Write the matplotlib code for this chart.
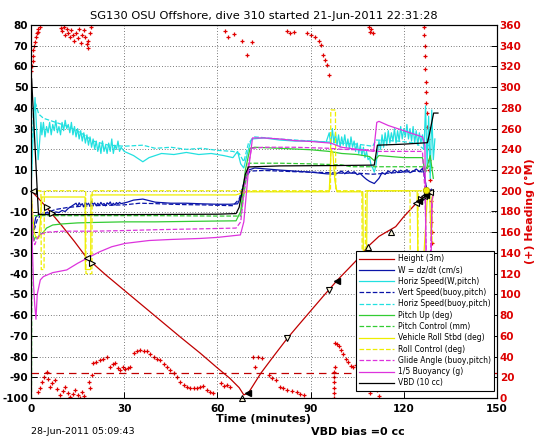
import matplotlib.pyplot as plt

plt.rcParams['axes.unicode_minus'] = False

# ---------- series (time in minutes) ----------
height_t = [0, 2, 5, 10, 14, 18, 24, 30, 36, 42, 48, 54.5, 60, 64, 67, 68.5, 70, 74, 78, 82.5,
            86, 90, 94, 98.7, 104.5, 108.4, 112, 117.4, 120, 123.7, 126, 128.5]
height_v = [0, -3, -8, -17, -24.5, -32.5, -40.5, -48, -55.5, -63, -70.5, -78.4, -85.5, -90.5, -95,
            -98.5, -97.5, -88, -80, -71.2, -65, -58, -51, -43, -34, -27, -22, -17.3, -12.5, -6.5, -3, 0]

w_t = [0, 0.3, 0.6, 1, 1.5, 2, 3, 4, 5, 6, 7, 8, 9, 10, 11, 12, 13, 14,
       14.5, 15, 15.5, 16, 16.5, 17, 17.5, 18, 18.5, 19, 19.5, 20, 20.5, 21, 21.5, 22, 22.5,
       23, 23.5, 24, 24.5, 25, 25.5, 26, 26.5, 27, 27.5, 28, 28.5, 29,
       31, 33, 36, 40, 45, 50, 55, 60, 64, 66.5, 67.5, 69, 70, 72, 76, 80, 85, 90, 95, 98,
       100, 101, 102, 103, 104, 105, 106, 107, 108, 109, 110.5, 112, 113, 114, 115, 116,
       117, 118, 119, 120, 121, 122, 123, 124, 125, 126, 126.8, 127.4, 128.2, 129.5]
w_v = [0, -12, -20, -17, -13, -12, -11, -11.5, -10.5, -11, -10.8, -10.2, -10.5, -9.5, -10, -8.5, -7.5, -6.5,
       -6, -7.5, -5.8, -7, -6.2, -7.8, -5.5, -6.8, -6, -7.5, -5, -6.6, -5.9, -7.2, -6, -7, -5.6,
       -6.8, -6.1, -7.3, -5.8, -6.5, -5.4, -7, -6, -6.9, -5.7, -6.4, -5.6, -6.2,
       -5.5, -4.5, -4, -5.5, -6, -6, -6.3, -6.5, -6.5, -6.3, -3, 5, 10, 11, 10.5, 10, 9.5, 9, 8.2, 8,
       9.5, 8.2, 9.4, 8.4, 9.2, 7.8, 8.3, 6.8, 5.5, 4.5, 3.5, 6, 8.8, 7.9, 9.6, 8.5,
       10, 8.8, 9.9, 9, 10.2, 8.7, 9.4, 10.5, 9.2, 10.8, 6, 0, -1.5, 0]

vs_t = [0, 0.5, 1, 2, 3, 5, 8, 12, 16, 20, 25, 30, 35, 40, 45, 50, 55, 60, 65, 67, 69, 70.5,
        75, 80, 85, 90, 95, 100, 105, 110, 115, 120, 124, 126.5, 127.5, 129]
vs_v = [0, -15, -19, -14, -12, -10.5, -9, -8, -7.5, -7.2, -7, -6.8, -6, -6.2, -6.5, -6.7, -6.8, -7,
        -7.2, -4, 6, 9.5, 9.8, 9.5, 9.2, 9, 8.8, 8.5, 8.5, 8, 8.5, 9, 9.5, 9, -2, 1]

hs_t = [0, 0.5, 1, 1.3, 1.8, 2.3, 2.7, 3.2,
        3.5, 4, 4.5, 5, 5.5, 6, 6.5, 7, 7.5, 8, 8.5, 9, 9.5, 10, 10.5, 11, 11.5, 12, 12.5, 13,
        13.5, 14, 14.5, 15, 15.5, 16, 16.5, 17, 17.5, 18, 18.5, 19, 19.5, 20, 20.5, 21, 21.5,
        22, 22.5, 23, 23.5, 24, 24.5, 25, 25.5, 26, 26.5, 27, 27.5, 28, 28.5, 29,
        30, 33, 36, 38, 42, 46, 50, 54, 58, 62, 65, 66.5, 67.5, 68.5, 70, 71, 75, 80, 85, 90, 95,
        96, 96.5, 97, 97.5, 98, 98.5, 99, 99.5, 100, 100.5, 101, 101.5, 102, 102.5, 103, 103.5,
        104, 104.5, 105, 105.5, 106, 106.5, 107, 107.5, 108, 108.5, 109, 109.5, 110, 110.5, 111,
        111.5, 112, 112.5, 113, 113.5, 114, 114.5, 115, 115.5, 116, 116.5, 117, 117.5, 118,
        118.5, 119, 119.5, 120, 120.5, 121, 121.5, 122, 122.5, 123, 123.5, 124, 124.5, 125,
        125.5, 126, 126.5, 127, 127.5, 128, 128.5, 129, 129.5, 130]
hs_v = [0, 20, 38, 45, 30, 15, 22, 33,
        27, 33, 26, 31, 28, 33, 27, 32, 29, 34, 28, 31, 27, 33, 29, 34, 30, 32, 28, 33,
        27, 31, 26, 30, 25, 29, 24, 28, 23, 27, 22, 26, 21, 25, 20, 24, 19,
        23, 18, 24, 19, 22, 18, 23, 19, 25, 18, 22, 20, 24, 19, 21,
        19, 17, 14, 16, 18, 17.5, 18.5, 17.5, 18, 17, 16, 19, 13, 11, 20, 25, 25.5, 24.5, 24, 24, 23.5,
        28, 22, 30, 23, 28, 22, 27, 21, 26, 22, 27, 21, 25, 20, 26, 21,
        24, 19, 23, 18, 22, 17, 21, 16, 19, 15, 16, 12, 11, 9, 12,
        18, 24, 20, 27, 21, 28, 22, 29, 23, 28, 24, 30, 23, 29,
        24, 31, 25, 30, 26, 32, 25, 30, 24, 31, 23, 29, 22, 28,
        23, 27, 20, 41, 12, 36, 6, 39, 15, 25]

hsb_t = [0, 0.8, 1.5, 2.5, 4, 8, 12, 16, 20, 25, 30, 36, 40, 45, 50, 55, 60, 65, 67, 68.5, 70,
         72, 80, 90, 96, 100, 105, 110, 111, 118, 124, 126.5, 128]
hsb_v = [0, 40, 42, 37, 35, 33, 31, 28, 24, 22, 21.5, 22, 20.5, 21, 20, 20.5, 19.5, 19, 18, 14,
         23, 26, 25, 24, 23.5, 23, 22.5, 21.5, 24.5, 24, 23, 20, 22]

pu_t = [0, 0.5, 1, 1.5, 2, 3, 4, 5, 7, 10, 15, 20, 30, 40, 50, 60, 66, 67.5, 69, 70.5, 72, 80,
        90, 96, 100, 105, 109, 110.5, 112, 116, 120, 124, 126, 126.8, 127.6, 128.5, 129.5]
pu_v = [0, -20, -24, -22, -23, -21, -20, -18, -16.5, -16, -15.5, -15.3, -15, -15, -14.8, -14.6,
        -14.5, -10, 10, 20.5, 21, 20.5, 19.8, 19, 18, 17.5, 16.5, 14.5, 17, 16.5, 16, 16, 16,
        9.5, 12, 17, 6]

pc_t = [0.15, 0.3, 1.5, 20, 40, 60, 66.5, 67.5, 70, 80, 90, 100, 103, 110, 124, 126, 127, 128, 129.5]
pc_v = [-110, -12, -12, -12, -12, -12.2, -12.2, -12.2, 13.3, 13.3, 13, 12.5, 11.6, 11.6, 11.6,
        11.6, 9, 12, 11]

roll_t = [0, 0.5, 1, 1.5, 2.5, 3, 3.5, 17.4, 17.5, 19.2, 19.3, 30, 40, 50, 60, 66, 68, 70, 80,
          90, 96, 96.6, 97.2, 97.8, 98.5, 100, 106.8, 107, 108, 108.2, 115, 120, 124.3, 124.6,
          125.5, 126.5, 127.5, 128.3, 128.8, 129.3]
roll_v = [0, -10, -20, -22, -23, -15, -3, -3, -38, -38, -2, -2, -2, -2, -2, -2, -1, -0.5, -0.5,
          -0.5, -0.5, 20, 18, 5, -0.5, -0.5, -0.5, -36, -36, 0, 0, 0, 0, -40, -45, -30, -5, -1,
          -24, -2]

rc_t = [0, 1, 3.2, 3.3, 4.2, 4.3, 17.6, 17.7, 19.6, 19.7, 66, 70, 96.4, 96.5, 98, 98.1, 106.5,
        106.6, 107.6, 107.7, 122, 122.1, 124.5, 124.6, 129, 129.1, 129.6]
rc_v = [0, 0, 0, -38, -38, 0, 0, -40, -40, 0, 0, 0, 0, 39, 39, 0, 0, -30, -30, 0, 0, -45, -45, 0,
        0, -25, -25]

ga_t = [0, 0.6, 1.2, 2, 3, 5, 10, 20, 30, 40, 50, 60, 66, 67.5, 69, 71, 75, 85, 96, 100, 105,
        110, 111, 115, 120, 124, 126, 126.8, 127.4, 128, 128.6, 129.2]
ga_v = [0, -22, -26, -23, -21, -20, -19.5, -19.5, -19.2, -18.8, -18.5, -18.2, -18, -15, 5, 20.5,
        21, 21, 20.5, 20, 19.8, 19.7, 19, 19, 19, 19, 19, 0, -40, -70, -30, -5]

bu_t = [0, 0.4, 0.8, 1.2, 1.6, 2, 3, 4, 7, 11.5, 15, 18, 22, 26, 30.3, 38, 45, 54.5, 60, 67.4,
        68.5, 70, 71.3, 75, 80, 85, 90, 96.5, 100, 105, 110.3, 111.3, 112, 115, 120, 124, 126,
        126.8, 127.2, 127.8, 128.4, 128.7, 129, 129.5]
bu_v = [-5, -25, -45, -55, -62, -50, -43, -41.4, -39.5, -38.2, -35, -32.6, -29.5, -27, -25.4, -24,
        -23.5, -23, -22.5, -21.3, -15, 10, 25.5, 25.5, 25, 24.2, 23.8, 23, 21, 20, 19, 33, 33.5,
        31.5, 29, 27, 26, 22, -40, -72, -55, -50, -5, -2]

vbd_t = [0.2, 2.4, 30, 60, 66, 67, 69, 70, 80, 100, 110.5, 111.5, 120, 127.6, 128.2, 129.6, 131]
vbd_v = [54, -11.5, -11.5, -11.3, -11, -8, 8, 11.5, 12, 12.2, 12.4, 22, 22.5, 23.2, 27, 37.5, 37.5]

# heading (degrees magnetic, right axis)
head_t = [0.1, 0.3, 0.5, 0.6, 0.8, 1.0, 1.2, 1.5, 1.8, 2.1, 2.4, 2.8,
          2.2, 2.8, 3.4, 4.2, 5, 5.5, 6.1, 6.8, 7.7, 8.5, 9.4, 10.2, 11, 11.8, 12.6, 13.4, 14.2,
          15, 15.8, 16.5, 17.2,
          9.5, 10, 10.5, 11, 11.5, 12, 12.5, 13, 13.5, 14, 14.5, 15, 15.5, 16, 16.5, 17, 17.5,
          18, 18.3, 18.5, 19, 19.3,
          18.6, 19, 19.5, 20.1, 21, 22.3, 23.3, 24.4, 25.5, 26.3, 27.1, 28, 28.7, 29.5, 30.3,
          31.1, 31.9, 33, 34, 35.2, 36.3, 37.3, 38.4, 39.5, 40.5, 41.6, 42.7, 43.8, 44.8, 45.9,
          47, 48.1, 49.2, 50.2, 51.3, 52.4, 53.4, 54.5, 55.5, 56.6, 57.6, 58.7, 61, 62, 63, 64,
          62.5, 63.5, 65.5, 67.8, 69.5, 71,
          71.6, 72, 73, 74.5, 76.5, 77.5, 79, 80, 81, 82.5, 84, 85.7, 86.5, 87.8,
          82.5, 83.5, 84.5, 89, 90, 91.5, 92.6, 93.2, 93.9, 94.5, 95.2, 95.8,
          97.5, 97.5, 97.5, 97.5, 97.6, 97.6, 97.7, 98, 98.5, 99, 99.7, 100.5, 101.3, 102, 103,
          103.5, 104.5, 105.5, 106.5, 108, 108.5, 109.2, 110.5, 111.5, 112,
          108.7, 109.2, 109.6, 110,
          126.5, 126.6, 126.7, 126.8, 126.9, 127, 127.1, 127.2, 127.4, 127.6, 127.8, 128,
          128.1, 128.2, 128.3, 128.5, 128.6, 128.8, 128.9, 129, 129.1, 129.3, 129.4]
head_v = [316, 320, 325, 330, 336, 340, 344, 348, 352, 356, 353, 358,
          6, 10, 15.8, 20, 25.4, 18, 11, 14, 17.4, 9, 2.9, 7, 11, 5, 1.3, 4, 7.7,
          3, 0, 6, 2,
          357, 354, 358, 350, 356, 352, 348, 355, 350, 345, 352, 347, 356, 343, 350, 355, 348,
          342, 338, 345, 352, 358,
          15.8, 10, 22, 33.5, 35, 36.7, 38, 40, 30.2, 33, 33.5, 29, 27, 30, 28,
          29, 30.2, 43.2, 45, 46.4, 45, 45.5, 42, 40, 38, 36.7, 33, 30.2, 27, 23.8,
          20, 15.8, 13, 11, 10, 9.4, 10, 11, 12, 8, 6, 5, 14, 12, 13, 11,
          354, 348, 351, 345, 331, 344,
          40, 30, 40, 39, 22, 19, 17, 11, 10, 8, 7, 6, 4, 3,
          354, 352, 353, 352, 350, 348, 345, 341, 331, 326, 321, 312,
          0, 5, 10, 15, 20, 25, 30, 53, 52, 50, 46, 42, 38, 35, 31,
          30, 32, 28, 25, 20, 12, 5, 15, 8, 2,
          358, 353, 356, 352,
          358, 350, 340, 330, 318, 305, 295, 285, 275, 262, 250, 240,
          230, 220, 210, 200, 190, 180, 170, 160, 150, 140, 132]

# apogee / stage markers on the height trace
mark_t = [0.5, 5, 6.7, 18, 19.5, 68, 82.5, 96, 108.4, 115.8, 124, 125.5, 126.6, 127.6, 128.5]
mark_v = [0, -7.8, -10.7, -32.5, -35, -100, -71.2, -47.9, -27, -19.7, -6, -4, -2.5, -1.5, -0.5]
mark_s = ['<', '>', '>', '<', '>', '^', 'v', 'v', '^', '^', '<', '>', '<', '>', '<']
fill_t = [70, 98.4, 125, 127]
fill_v = [-97.5, -43.4, -4.8, -2]
ball_t = [127.3]
ball_v = [0.5]

target_heading = -88  # drawn on the left scale

RED = '#c00000'
BLUE = '#0a14a8'
CYAN = '#22e0e0'
GREEN = '#33cc33'
YELLOW = '#eeee00'
MAGENTA = '#dd33dd'

fig = plt.figure(figsize=(5.46, 4.42), dpi=100)
ax = fig.add_axes([31 / 546, 44 / 442, 466 / 546, 373 / 442])
ax2 = ax.twinx()
ax.set_zorder(ax2.get_zorder() + 1)
ax.patch.set_visible(False)

ax2.plot(head_t, head_v, '+', color='#e00000', ms=3, mew=0.9)

lw = 0.9
ax.plot(height_t, height_v, '-', color=RED, lw=lw, label='Height (3m)')
ax.plot(w_t, w_v, '-', color=BLUE, lw=lw, label='W = dz/dt (cm/s)')
ax.plot(hs_t, hs_v, '-', color=CYAN, lw=lw, label='Horiz Speed(W,pitch)')
ax.plot(vs_t, vs_v, '--', color=BLUE, lw=lw, label='Vert Speed(buoy,pitch)')
ax.plot(hsb_t, hsb_v, '--', color=CYAN, lw=lw, label='Horiz Speed(buoy,pitch)')
ax.plot(pu_t, pu_v, '-', color=GREEN, lw=lw, label='Pitch Up (deg)')
ax.plot(pc_t, pc_v, '--', color=GREEN, lw=lw, label='Pitch Control (mm)')
ax.plot(roll_t, roll_v, '-', color=YELLOW, lw=lw, label='Vehicle Roll Stbd (deg)')
ax.plot(rc_t, rc_v, '--', color=YELLOW, lw=lw, label='Roll Control (deg)')
ax.plot(ga_t, ga_v, '--', color=MAGENTA, lw=lw, label='Glide Angle (buoy,pitch)')
ax.plot(bu_t, bu_v, '-', color=MAGENTA, lw=lw, label='1/5 Buoyancy (g)')
ax.plot(vbd_t, vbd_v, '-', color='black', lw=lw, label='VBD (10 cc)')

ax.axhline(target_heading, color=RED, ls='--', lw=lw, dashes=(6, 4))

for t, v, m in zip(mark_t, mark_v, mark_s):
    ax.plot(t, v, m, ms=5, mfc='#fffbe0', mec='black', mew=0.8, clip_on=False)
ax.plot(fill_t, fill_v, '<', ms=5, mfc='black', mec='black', ls='none')
ax.plot(ball_t, ball_v, 'o', ms=4.5, mfc=YELLOW, mec='#b0a000', mew=0.6, ls='none')

# axes styling (MATLAB look)
ax.set_xlim(0, 150)
ax.set_ylim(-100, 80)
ax.set_xticks(range(0, 151, 30))
ax.set_yticks(range(-100, 81, 10))
ax2.set_ylim(0, 360)
ax2.set_yticks(range(0, 361, 20))
ax.grid(True, color='black', ls=(0, (1, 3)), lw=0.5)
ax.tick_params(direction='in', length=4, labelsize=7.5, width=0.7, pad=2)
ax.tick_params(axis='x', pad=4)
ax2.tick_params(direction='in', length=4, labelsize=7.5, width=0.7,
                labelcolor='#dd0000', pad=2)
for lab in ax.get_xticklabels() + ax.get_yticklabels() + ax2.get_yticklabels():
    lab.set_fontweight('bold')
for sp in ax.spines.values():
    sp.set_linewidth(0.8)

ax.set_title('SG130 OSU Offshore, dive 310 started 21-Jun-2011 22:31:28', fontsize=8.2, pad=4)
ax.set_xlabel('Time (minutes)', fontsize=8, fontweight='bold', labelpad=0)
ax2.set_ylabel('(+) Heading (\u00b0M)', fontsize=8, fontweight='bold', color='#dd0000', labelpad=2)

leg = ax.legend(loc='lower right', bbox_to_anchor=(0.994, 0.02), borderaxespad=0,
                fontsize=5.5, handlelength=4.6, handletextpad=0.5, labelspacing=0.3,
                fancybox=False, framealpha=1, edgecolor='black', borderpad=0.4)
leg.get_frame().set_linewidth(0.8)

fig.text(31 / 546, 1 - 432 / 442, '28-Jun-2011 05:09:43', fontsize=6.8, va='center')
fig.text(358 / 546, 1 - 432 / 442, 'VBD bias =0 cc', fontsize=8, fontweight='bold',
         ha='center', va='center')

fig.savefig('out.png', dpi=100)
